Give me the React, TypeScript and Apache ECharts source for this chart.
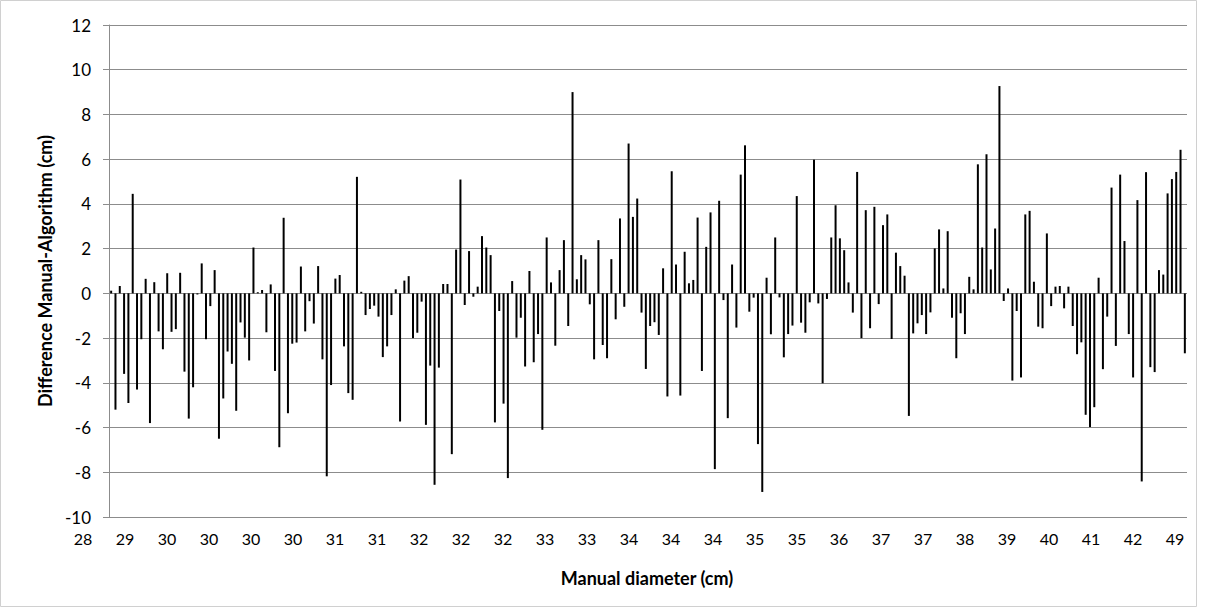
import React, { useEffect, useRef } from "react";
import * as echarts from "echarts";

// Difference Manual - Algorithm (cm), one value per case, sorted by manual diameter
const differences: number[] = [
  0.12, -5.2, 0.33, -3.6, -4.9, 4.45, -4.3, -2.05, 0.65, -5.8,
  0.5, -1.7, -2.5, 0.9, -1.72, -1.6, 0.92, -3.5, -5.6, -4.2,
  -0.05, 1.34, -2.05, -0.57, 1.04, -6.5, -4.7, -2.6, -3.15, -5.25,
  -1.3, -1.98, -3.0, 2.05, 0.05, 0.15, -1.74, 0.4, -3.47, -6.88,
  3.38, -5.36, -2.25, -2.2, 1.2, -1.7, -0.35, -1.35, 1.22, -2.95,
  -8.18, -4.1, 0.66, 0.82, -2.37, -4.46, -4.76, 5.21, 0.07, -0.97,
  -0.7, -0.55, -1.04, -2.85, -2.37, -0.97, 0.18, -5.73, 0.57, 0.77,
  -2.0, -1.76, -0.37, -5.88, -3.23, -8.56, -3.32, 0.42, 0.42, -7.19,
  1.96, 5.09, -0.52, 1.89, -0.15, 0.3, 2.56, 2.05, 1.71, -5.77,
  -0.79, -4.93, -8.26, 0.55, -1.98, -1.09, -3.27, 1.0, -3.08, -1.82,
  -6.1, 2.5, 0.49, -2.34, 1.04, 2.38, -1.46, 9.0, 0.63, 1.71,
  1.52, -0.49, -2.95, 2.38, -2.31, -2.9, 1.53, -1.16, 3.35, -0.6,
  6.7, 3.42, 4.24, -0.86, -3.38, -1.46, -1.29, -1.86, 1.12, -4.61,
  5.46, 1.29, -4.57, 1.86, 0.45, 0.6, 3.39, -3.47, 2.08, 3.62,
  -7.86, 4.14, -0.3, -5.58, 1.29, -1.53, 5.31, 6.62, -0.82, -0.19,
  -6.74, -8.88, 0.7, -1.83, 2.5, -0.18, -2.86, -1.82, -1.44, 4.35,
  -1.31, -1.76, -0.4, 5.98, -0.45, -4.02, -0.25, 2.5, 3.94, 2.46,
  1.93, 0.49, -0.86, 5.43, -2.0, 3.72, -1.56, 3.87, -0.48, 3.05,
  3.53, -2.04, 1.82, 1.22, 0.79, -5.48, -1.79, -1.34, -0.97, -1.82,
  -0.85, 2.01, 2.86, 0.22, 2.78, -1.09, -2.9, -0.89, -1.82, 0.74,
  0.18, 5.77, 2.05, 6.22, 1.07, 2.9, 9.27, -0.34, 0.22, -3.9,
  -0.79, -3.76, 3.53, 3.69, 0.52, -1.49, -1.56, 2.68, -0.57, 0.3,
  0.33, -0.67, 0.3, -1.46, -2.72, -2.19, -5.43, -5.98, -5.09, 0.7,
  -3.39, -1.04, 4.73, -2.35, 5.31, 2.34, -1.82, -3.76, 4.17, -8.41,
  5.42, -3.3, -3.52, 1.04, 0.84, 4.47, 5.11, 5.43, 6.42, -2.68,
];

// case index categories
const cases: string[] = differences.map((_, i) => String(i + 1));

// tick labels shown under the horizontal axis (manual diameter, cm)
const diameterLabels: string[] = [
  "28", "29", "30", "30", "30", "30", "31", "31", "32", "32", "32", "33", "33", "34",
  "34", "34", "35", "35", "36", "37", "37", "38", "39", "40", "41", "42", "49",
];

const yMin = -10;
const yMax = 12;
const yStep = 2;

const FONT = "Lato, 'Open Sans', sans-serif";
const GRID_COLOR = "#8c8c8c";

export default function App() {
  const ref = useRef<HTMLDivElement>(null);

  useEffect(() => {
    if (!ref.current) return;
    const chart = echarts.init(ref.current, null, { renderer: "svg" });
    chart.setOption({
      animation: false,
      backgroundColor: "#ffffff",
      textStyle: { fontFamily: FONT },
      grid: [
        { left: 109, right: 18, top: 25, bottom: 91, containLabel: false },
        { left: 83, right: 30, top: 516, height: 1, containLabel: false },
      ],
      xAxis: [
        {
          type: "category",
          gridIndex: 0,
          data: cases,
          boundaryGap: true,
          axisLine: { show: false },
          axisTick: { show: false },
          axisLabel: { show: false },
          splitLine: { show: false },
        },
        {
          type: "category",
          gridIndex: 1,
          data: diameterLabels,
          boundaryGap: false,
          axisLine: { show: false },
          axisTick: { show: false },
          splitLine: { show: false },
          axisLabel: {
            show: true,
            interval: 0,
            fontSize: 16,
            color: "#000",
            fontFamily: FONT,
            margin: 13,
          },
        },
      ],
      yAxis: [
        {
          type: "value",
          gridIndex: 0,
          min: yMin,
          max: yMax,
          interval: yStep,
          axisLine: { show: true, lineStyle: { color: GRID_COLOR, width: 1 } },
          axisTick: { show: true, length: 6, lineStyle: { color: GRID_COLOR } },
          splitLine: { show: true, lineStyle: { color: GRID_COLOR, width: 1 } },
          axisLabel: { fontSize: 17, color: "#000", fontFamily: FONT, margin: 18 },
        },
        { type: "value", gridIndex: 1, show: false },
      ],
      series: [
        {
          type: "bar",
          xAxisIndex: 0,
          yAxisIndex: 0,
          data: differences,
          barWidth: 2,
          itemStyle: { color: "#000000" },
        },
      ],
      graphic: [
        {
          type: "rect",
          shape: { x: 0.5, y: 0.5, width: 1196, height: 606 },
          style: { fill: "none", stroke: "#d0d0d0", lineWidth: 1 },
          silent: true,
        },
        {
          type: "text",
          x: 647,
          y: 578,
          style: {
            text: "Manual diameter (cm)",
            font: "bold 18px " + FONT,
            fill: "#000",
            textAlign: "center",
            textVerticalAlign: "middle",
          },
        },
        {
          type: "text",
          x: 45,
          y: 271,
          rotation: Math.PI / 2,
          style: {
            text: "Difference Manual-Algorithm (cm)",
            font: "bold 18px " + FONT,
            fill: "#000",
            textAlign: "center",
            textVerticalAlign: "middle",
          },
        },
      ],
    });
    return () => chart.dispose();
  }, []);

  return (
    <div
      ref={ref}
      style={{ position: "absolute", left: 0, top: 0, width: 1205, height: 608 }}
    />
  );
}
